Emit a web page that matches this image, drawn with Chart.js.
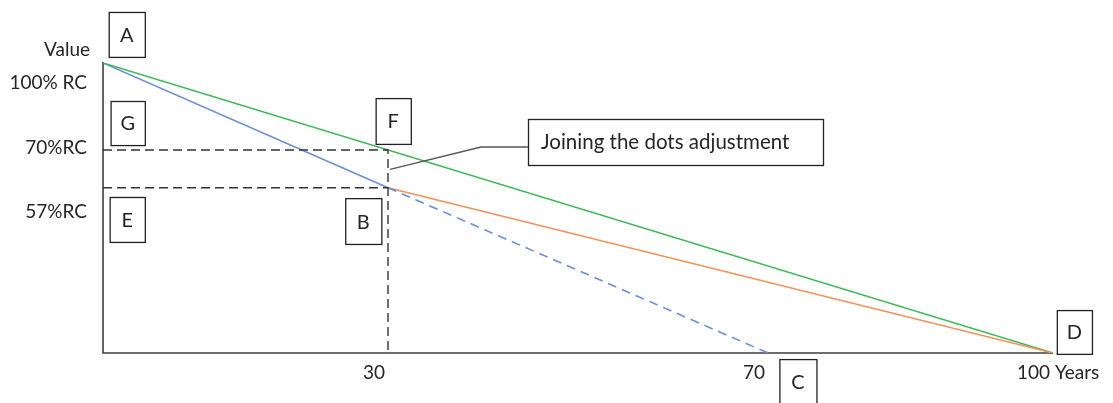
<!DOCTYPE html>
<html>
<head>
<meta charset="utf-8">
<script src="https://cdn.jsdelivr.net/npm/chart.js@4"></script>
<style>
  html, body { margin: 0; padding: 0; background: #fff; }
  #wrap { width: 1113px; height: 403px; }
</style>
</head>
<body>
<div id="wrap"><canvas id="c" width="1113" height="403"></canvas></div>
<script>
// ---- data ----
const greenLine  = [{x: 0, y: 100}, {x: 100, y: 0}];
const blueSolid  = [{x: 0, y: 100}, {x: 30, y: 57}];
const blueDashed = [{x: 30, y: 57}, {x: 70, y: 0}];
const orangeLine = [{x: 30, y: 57}, {x: 100, y: 0}];
const guide70    = [{x: 0, y: 70}, {x: 30, y: 70}, {x: 30, y: 0}];
const guide57    = [{x: 0, y: 57}, {x: 30, y: 57}];

const xTickValues = [30, 70, 100];
const xTickLabels = ["30", "70", "100 Years"];
const yTickValues = [100, 70, 57];
const yTickLabels = ["100% RC", "70%RC", "57%RC"];
const yAxisTitle = "Value";

// letter boxes: [label, x0, x1, yTop, yBottom] in data units
const letterBoxes = [
  ["A", 0.6, 4.4, 117.6, 102.1],
  ["G", 0.8, 4.4, 86.9, 71.7],
  ["E", 0.7, 4.4, 53.8, 38.3],
  ["F", 28.7, 32.4, 87.9, 72.1],
  ["B", 25.5, 29.3, 53.4, 37.6],
  ["D", 100.4, 104.1, 14.8, -0.3],
  ["C", 71.2, 75.1, -2.1, -20]
];
const calloutText = "Joining the dots adjustment";

const FONT = '19px Lato, "Open Sans", sans-serif';
const TEXT = "#262626";

// ---- plugin: axes, labels, boxes ----
const decor = {
  id: "decor",
  beforeDatasetsDraw(chart) {
    const {ctx, scales: {x, y}} = chart;
    ctx.save();
    ctx.strokeStyle = "#3c3c3c";
    ctx.lineWidth = 1.6;
    ctx.beginPath();
    ctx.moveTo(x.getPixelForValue(0), y.getPixelForValue(100) - 1);
    ctx.lineTo(x.getPixelForValue(0), y.getPixelForValue(0));
    ctx.lineTo(x.getPixelForValue(100), y.getPixelForValue(0));
    ctx.stroke();
    ctx.restore();
  },
  afterDatasetsDraw(chart) {
    const {ctx, scales: {x, y}} = chart;
    ctx.save();
    ctx.font = FONT;
    ctx.fillStyle = TEXT;
    ctx.textBaseline = "middle";

    // y labels (offsets match the drawing, which doesn't put them exactly on the value)
    const yOffs = [20, -2, 24];
    ctx.textAlign = "right";
    ctx.fillText(yAxisTitle, 90, y.getPixelForValue(100) - 13);
    yTickLabels.forEach((t, i) => {
      ctx.fillText(t, 87, y.getPixelForValue(yTickValues[i]) + yOffs[i]);
    });

    // x labels
    ctx.textAlign = "center";
    const y0 = y.getPixelForValue(0) + 20;
    xTickLabels.forEach((t, i) => {
      const px = x.getPixelForValue(xTickValues[i]);
      if (i === xTickLabels.length - 1) {
        ctx.textAlign = "left";
        ctx.fillText(t, px - 36, y0);
      } else {
        ctx.fillText(t, px - 14, y0);
      }
    });

    // letter boxes
    ctx.strokeStyle = "#222";
    ctx.lineWidth = 1.3;
    ctx.textAlign = "center";
    ctx.font = '20px Lato, "Open Sans", sans-serif';
    letterBoxes.forEach(([lab, x0, x1, yt, yb]) => {
      const l = x.getPixelForValue(x0), r = x.getPixelForValue(x1);
      const t = y.getPixelForValue(yt), b = y.getPixelForValue(yb);
      ctx.fillStyle = "#fff";
      ctx.fillRect(l, t, r - l, b - t);
      ctx.strokeRect(l + 0.5, t + 0.5, r - l, b - t);
      ctx.fillStyle = TEXT;
      const ty = lab === "C" ? t + 23 : (t + b) / 2 + 1;
      ctx.fillText(lab, (l + r) / 2, ty);
    });

    // callout
    const bl = 528, bt = 119, bw = 295, bh = 46;
    ctx.strokeStyle = "#555";
    ctx.lineWidth = 1.3;
    ctx.beginPath();
    ctx.moveTo(x.getPixelForValue(30) + 2, y.getPixelForValue(63.3));
    ctx.lineTo(481, bt + bh / 2 + 5);
    ctx.lineTo(bl, bt + bh / 2 + 5);
    ctx.stroke();
    ctx.strokeStyle = "#222";
    ctx.strokeRect(bl + 0.5, bt + 0.5, bw, bh);
    ctx.fillStyle = TEXT;
    ctx.textAlign = "left";
    ctx.font = '20.5px Lato, "Open Sans", sans-serif';
    ctx.fillText(calloutText, bl + 13, bt + bh / 2);
    ctx.restore();
  }
};

const line = (data, color, dash, width) => ({
  data, showLine: true, borderColor: color, borderWidth: width || 1.6,
  borderDash: dash || [], pointRadius: 0, fill: false, tension: 0
});

new Chart(document.getElementById("c"), {
  type: "scatter",
  data: {
    datasets: [
      line(guide70, "#333", [9, 5], 1.4),
      line(guide57, "#333", [9, 5], 1.4),
      line(blueDashed, "#6a8fd8", [9, 6]),
      line(orangeLine, "#f0935a"),
      line(greenLine, "#3dba57"),
      line(blueSolid, "#6a8fd8")
    ]
  },
  options: {
    responsive: false,
    animation: false,
    layout: { padding: { left: 103, right: 60, top: 63, bottom: 50 } },
    plugins: { legend: { display: false }, tooltip: { enabled: false } },
    scales: {
      x: { type: "linear", min: 0, max: 100, display: false },
      y: { type: "linear", min: 0, max: 100, display: false }
    }
  },
  plugins: [decor]
});
</script>
</body>
</html>
